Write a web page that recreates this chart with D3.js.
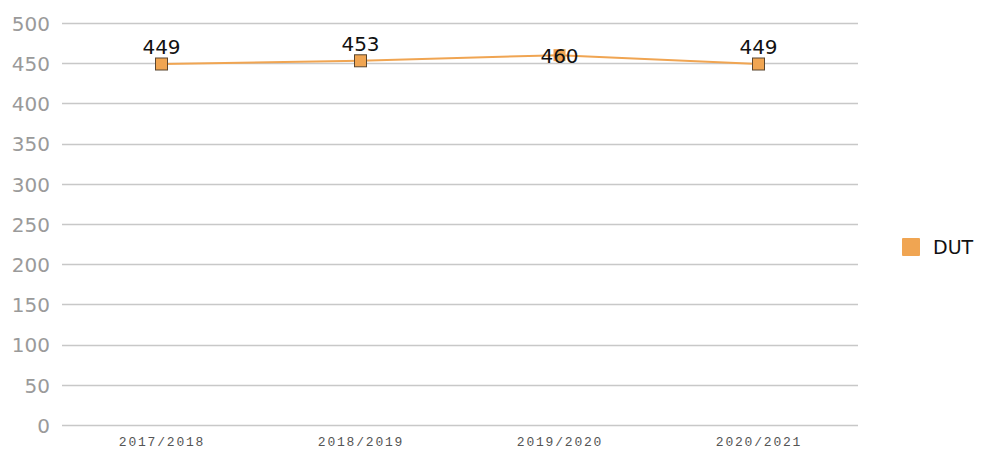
<!DOCTYPE html>
<html><head><meta charset="utf-8">
<script src="https://cdn.jsdelivr.net/npm/d3@7"></script>
<style>body{margin:0;background:#fff;} svg{display:block;}</style>
</head><body>
<script>
const categories = ["2017/2018","2018/2019","2019/2020","2020/2021"];
const seriesName = "DUT";
const values = [449, 453, 460, 449];
const yTicks = [0,50,100,150,200,250,300,350,400,450,500];
// label placement: "above" or "center" (as in the original, overlapping label)
const labelPlacement = ["above","above","center","above"];

(function(){
const W = 983, H = 458;
const mLeft = 62, mRight = 858, mTop = 23, mBottom = 425;
const color = "#F0A552";
const svg = d3.select("body").append("svg").attr("width", W).attr("height", H);

const x = d3.scalePoint().domain(categories).range([mLeft, mRight]).padding(0.5);
const y = d3.scaleLinear().domain([0, 500]).range([mBottom, mTop]);

// gridlines
svg.append("g").selectAll("line").data(yTicks).join("line")
  .attr("x1", mLeft).attr("x2", mRight)
  .attr("y1", d => Math.round(y(d)) + 0.5).attr("y2", d => Math.round(y(d)) + 0.5)
  .attr("stroke", "#c8c8c8").attr("stroke-width", 1.5);

// y axis labels
const yAxis = d3.axisLeft(y).tickValues(yTicks).tickSize(0).tickPadding(0);
const gy = svg.append("g").attr("transform", `translate(${50},0)`).call(yAxis);
gy.select(".domain").remove();
gy.selectAll("text").attr("font-family", "DejaVu Sans, Verdana, sans-serif")
  .attr("font-size", 20).attr("fill", "#9a9a9a").attr("dy", "0.36em");

// x axis labels
const xAxis = d3.axisBottom(x).tickSize(0).tickPadding(0);
const gx = svg.append("g").attr("transform", `translate(0,${mBottom + 12})`).call(xAxis);
gx.select(".domain").remove();
gx.selectAll("text").attr("font-family", "Liberation Mono, monospace")
  .attr("font-size", 13).attr("fill", "#555").attr("letter-spacing", "1.8px")
  .attr("dy", "0.71em");

// line
const pts = categories.map((c, i) => ({c, v: values[i], p: labelPlacement[i]}));
svg.append("path").datum(pts)
  .attr("d", d3.line().x(d => x(d.c)).y(d => y(d.v)))
  .attr("fill", "none").attr("stroke", color).attr("stroke-width", 2);

// markers
svg.append("g").selectAll("rect").data(pts).join("rect")
  .attr("x", d => x(d.c) - 6).attr("y", d => y(d.v) - 6)
  .attr("width", 12).attr("height", 12)
  .attr("fill", color)
  .attr("stroke", d => d.p === "center" ? "none" : "#5a4630")
  .attr("stroke-width", 1);

// data labels
svg.append("g").selectAll("text").data(pts).join("text")
  .attr("x", d => x(d.c))
  .attr("y", d => d.p === "center" ? y(d.v) + 8 : y(d.v) - 10)
  .attr("text-anchor", "middle")
  .attr("font-family", "DejaVu Sans, Verdana, sans-serif")
  .attr("font-size", 20).attr("fill", "#111")
  .text(d => d.v);

// legend
const lg = svg.append("g");
lg.append("rect").attr("x", 902).attr("y", 238).attr("width", 18).attr("height", 18)
  .attr("fill", color).attr("rx", 1);
lg.append("text").attr("x", 933).attr("y", 254)
  .attr("font-family", "DejaVu Sans, Verdana, sans-serif")
  .attr("font-size", 19).attr("fill", "#111").text(seriesName);
})();
</script>
</body></html>
